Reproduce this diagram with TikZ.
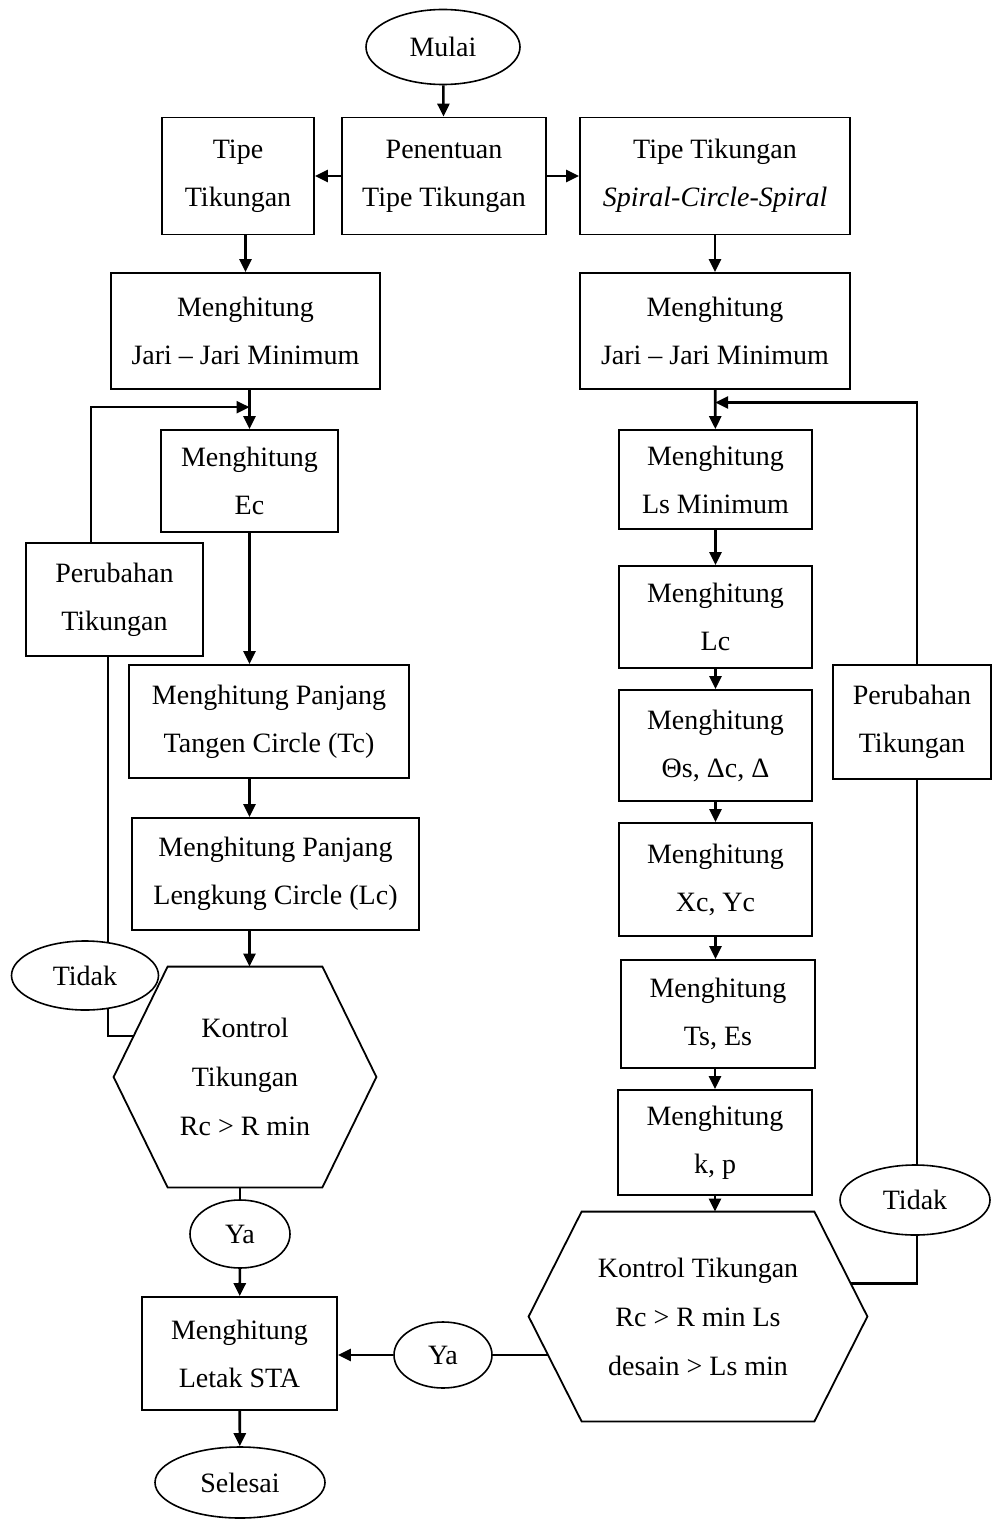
\documentclass[tikz,border=0pt]{standalone}
\usepackage{fontspec}
\setmainfont{Liberation Serif}
\usetikzlibrary{positioning,arrows.meta,shapes.geometric,backgrounds,calc}
\newcommand{\flowfont}{\fontsize{14pt}{24pt}\selectfont}
\tikzset{
  box/.style  ={draw, line width=.9pt, fill=white, align=center, inner sep=2pt, font=\flowfont},
  term/.style ={draw, ellipse, line width=.8pt, fill=white, inner sep=0pt, font=\flowfont},
  hexa/.style ={align=center, inner sep=2pt, font=\fontsize{14pt}{24.5pt}\selectfont},
  hexln/.style={draw, line width=.9pt, fill=white},
  ln/.style   ={draw, line width=1.3pt, -{Triangle[length=6.5pt,width=6pt]}},
  lnp/.style  ={draw, line width=1.3pt},
}

\begin{document}
\begin{tikzpicture}[x=.5pt,y=-.5pt]
  \useasboundingbox (0,0) rectangle (992,1520);
  % awal
  \node[term,minimum width=77pt,minimum height=37.5pt] (mulai) at (443,47) {Mulai};
  \node[box,minimum width=102pt,minimum height=58.5pt] (pen) at (444,176) {Penentuan\\Tipe Tikungan};
  \node[box,minimum width=76pt,minimum height=58.5pt] (tipe1) at (238,176) {Tipe\\Tikungan};
  \node[box,minimum width=135pt,minimum height=58.5pt] (tipe2) at (715,176) {Tipe Tikungan\\\textit{Spiral-Circle-Spiral}};
  % kolom kiri
  \node[box,minimum width=134.5pt,minimum height=58pt] (jari1) at (245.5,331) {Menghitung\\Jari -- Jari Minimum};
  \node[box,minimum width=88.5pt,minimum height=51pt] (ec) at (249.5,481) {Menghitung\\Ec};
  \node[box,minimum width=88.5pt,minimum height=56.5pt] (per1) at (114.5,599.5) {Perubahan\\Tikungan};
  \node[box,minimum width=140pt,minimum height=56.5pt] (tan) at (269,721.5) {Menghitung Panjang\\Tangen Circle (Tc)};
  \node[box,minimum width=143.5pt,minimum height=56pt] (leng) at (275.5,874) {Menghitung Panjang\\Lengkung Circle (Lc)};
  \node[hexa,minimum width=131pt,minimum height=110pt] (k1) at (245,1077) {Kontrol\\Tikungan\\Rc > R min};
  \node[term,minimum width=73.5pt,minimum height=34.5pt] (tidak1) at (85,975.5) {Tidak};
  \node[term,minimum width=50pt,minimum height=34pt] (ya1) at (240,1234) {Ya};
  \node[box,minimum width=97.5pt,minimum height=56.5pt] (sta) at (239.5,1353.5) {Menghitung\\Letak STA};
  \node[term,minimum width=85pt,minimum height=35.5pt] (selesai) at (240,1482.5) {Selesai};
  % kolom kanan
  \node[box,minimum width=135pt,minimum height=58pt] (jari2) at (715,331) {Menghitung\\Jari -- Jari Minimum};
  \node[box,minimum width=96.5pt,minimum height=49.5pt] (ls) at (715.5,479.5) {Menghitung\\Ls Minimum};
  \node[box,minimum width=96.5pt,minimum height=51pt] (lc) at (715.5,617) {Menghitung\\Lc};
  \node[box,minimum width=96.5pt,minimum height=55.5pt] (teta) at (715.5,745.5) {Menghitung\\Θs, Δc, Δ};
  \node[box,minimum width=96.5pt,minimum height=56.5pt] (xc) at (715.5,879.5) {Menghitung\\Xc, Yc};
  \node[box,minimum width=97pt,minimum height=54pt] (ts) at (718,1014) {Menghitung\\Ts, Es};
  \node[box,minimum width=97pt,minimum height=52.5pt] (kp) at (715,1142.5) {Menghitung\\k, p};
  \node[hexa,minimum width=169pt,minimum height=104.5pt] (k2) at (698,1316.5) {Kontrol Tikungan\\Rc > R min Ls\\desain > Ls min};
  \node[term,minimum width=49pt,minimum height=33pt] (ya2) at (443,1355) {Ya};
  \node[term,minimum width=75pt,minimum height=35pt] (tidak2) at (915,1200) {Tidak};
  \node[box,minimum width=79pt,minimum height=57pt] (per2) at (912,722) {Perubahan\\Tikungan};
  \coordinate (m1) at ($(jari1.south -| ec.north)!.44!(ec.north)$);
  \coordinate (m2) at ($(jari2.south)!.32!(ls.north)$);
  \begin{scope}[on background layer]
    \draw[ln] (mulai) -- (pen);
    \draw[ln] (pen) -- (tipe1);
    \draw[ln] (pen) -- (tipe2);
    \draw[ln] (jari1.north |- tipe1.south) -- (jari1.north);
    \draw[ln] (tipe2) -- (jari2);
    % kiri
    \draw[ln] (jari1.south -| ec.north) -- (ec.north);
    \draw[ln] (ec) -- (ec.center |- tan.north);
    \draw[ln] (ec.center |- tan.south) -- (ec.center |- leng.north);
    \draw[ln] (ec.center |- leng.south) -- (ec.center |- k1.north);
    \draw[lnp] (ya1.north |- k1.south) -- (ya1);
    \draw[ln] (ya1) -- (sta);
    \draw[ln] (sta) -- (selesai);
    \draw[lnp] ([yshift=20.5pt]k1.center) -| ([xshift=-3.25pt]per1.south);
    \draw[ln] ([xshift=-11.75pt]per1.north) |- (m1);
    % kanan
    \draw[ln] (jari2) -- (ls);
    \draw[ln] (ls) -- (lc);
    \draw[ln] (lc) -- (teta);
    \draw[ln] (teta) -- (xc);
    \draw[ln] (xc.south) -- (xc.south |- ts.north);
    \draw[ln] (kp.north |- ts.south) -- (kp.north);
    \draw[ln] (kp) -- (kp.center |- k2.north);
    \draw[lnp] (ya2) -- (ya2 -| k2.center);
    \draw[ln] (ya2.west) -- (ya2.west -| sta.east);
    \draw[lnp] ([yshift=16.5pt]k2.center) -| ([xshift=2.5pt]per2.south);
    \draw[ln] ([xshift=2.5pt]per2.north) |- (m2);
    % segi enam
    \draw[hexln] ([xshift=27pt]k1.north west) -- ([xshift=-27pt]k1.north east) -- (k1.east)
      -- ([xshift=-27pt]k1.south east) -- ([xshift=27pt]k1.south west) -- (k1.west) -- cycle;
    \draw[hexln] ([xshift=26.5pt]k2.north west) -- ([xshift=-26.5pt]k2.north east) -- (k2.east)
      -- ([xshift=-26.5pt]k2.south east) -- ([xshift=26.5pt]k2.south west) -- (k2.west) -- cycle;
  \end{scope}
\end{tikzpicture}
\end{document}
